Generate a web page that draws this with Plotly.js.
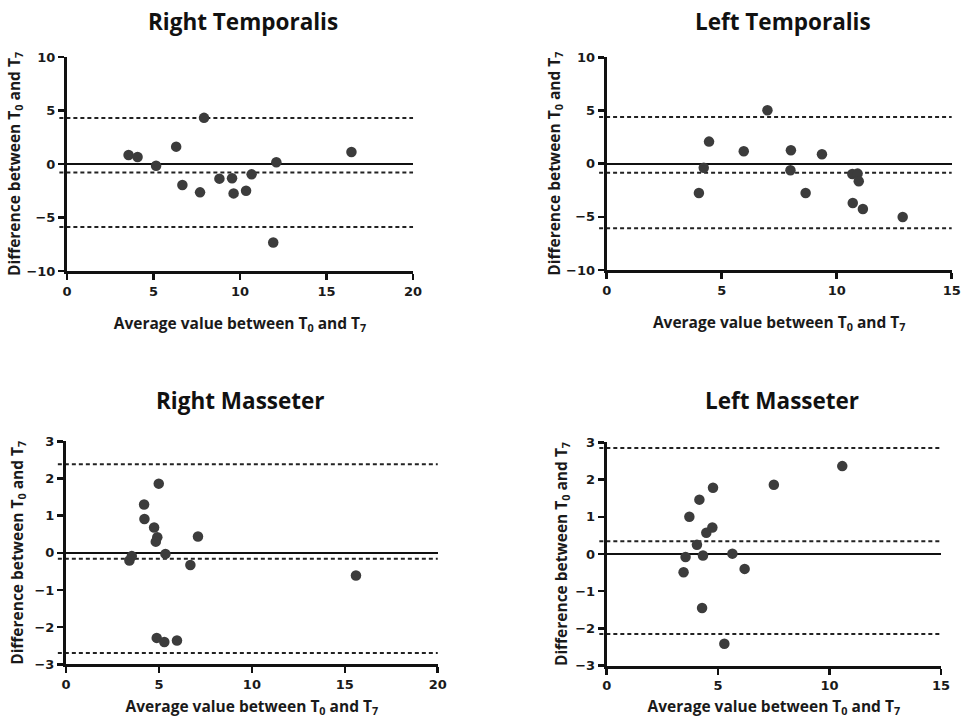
<!DOCTYPE html>
<html>
<head>
<meta charset="utf-8">
<script src="https://cdn.plot.ly/plotly-3.0.1.min.js"></script>
<style>html,body{margin:0;padding:0;background:#fff;}#chart{width:961px;height:724px;}</style>
</head>
<body>
<div id="chart"></div>
<script>
// Panel titles
const panelTitles = ["Right Temporalis", "Left Temporalis", "Right Masseter", "Left Masseter"];

// Right Temporalis
const rtX = [3.56, 4.08, 5.15, 6.31, 6.67, 7.69, 7.92, 8.81, 9.54, 9.63, 10.35, 10.67, 11.92, 12.10, 16.44];
const rtY = [0.84, 0.66, -0.16, 1.62, -1.97, -2.65, 4.31, -1.37, -1.34, -2.75, -2.50, -0.97, -7.33, 0.16, 1.12];
const rtLimits = [4.3, -0.8, -5.9];   // upper LoA, mean bias, lower LoA

// Left Temporalis
const ltX = [4.01, 4.22, 4.45, 5.96, 6.99, 8.01, 7.99, 8.65, 9.36, 10.68, 10.91, 10.96, 10.70, 11.14, 12.87];
const ltY = [-2.76, -0.38, 2.07, 1.16, 5.02, 1.25, -0.63, -2.76, 0.88, -0.97, -0.94, -1.66, -3.70, -4.26, -5.02];
const ltLimits = [4.39, -0.85, -6.08];

// Right Masseter
const rmX = [3.41, 3.54, 4.20, 4.22, 4.74, 4.91, 4.83, 4.99, 5.35, 6.69, 7.10, 4.88, 5.29, 5.97, 15.60];
const rmY = [-0.21, -0.09, 1.30, 0.91, 0.68, 0.42, 0.30, 1.86, -0.03, -0.33, 0.44, -2.29, -2.40, -2.36, -0.61];
const rmLimits = [2.38, -0.16, -2.70];

// Left Masseter
const lmX = [3.45, 3.54, 3.71, 4.05, 4.16, 4.28, 4.32, 4.47, 4.74, 4.77, 5.28, 5.64, 6.19, 7.50, 10.57];
const lmY = [-0.49, -0.08, 1.00, 0.25, 1.46, -1.45, -0.04, 0.57, 0.71, 1.78, -2.41, 0.01, -0.40, 1.86, 2.36];
const lmLimits = [2.85, 0.34, -2.15];

// Axis ranges and tick steps
const xRanges = [[0, 20], [0, 15], [0, 20], [0, 15]];
const yRanges = [[-10, 10], [-10, 10], [-3, 3], [-3, 3]];
const yDtick = [5, 5, 1, 1];
const xTitle = "Average value between T<sub>0</sub> and T<sub>7</sub>";
const yTitle = "Difference between T<sub>0</sub> and T<sub>7</sub>";

const series = [[rtX, rtY, rtLimits], [ltX, ltY, ltLimits], [rmX, rmY, rmLimits], [lmX, lmY, lmLimits]];

// layout geometry (paper fractions)
const xDomains = [[0.0697, 0.4298], [0.6313, 0.9903], [0.0687, 0.4555], [0.6313, 0.9792]];
const yDomains = [[0.6257, 0.9213], [0.6271, 0.9209], [0.0825, 0.3905], [0.0805, 0.3891]];
const titlePos = [[0.253, 0.970], [0.815, 0.970], [0.250, 0.447], [0.814, 0.447]];
const xStandoff = [21, 21, 11, 9];
const yStandoff = [2, 2, 8, 4];

function tickFont() { return {family: "DejaVu Sans", size: 13, color: "#1a1a1a", weight: "bold"}; }
function axTitleFont() { return {family: "Open Sans", size: 15.5, color: "#1a1a1a", weight: "bold"}; }

const traces = [];
const shapes = [];
const annotations = [];
const layout = {
  width: 961, height: 724,
  margin: {l: 0, r: 0, t: 0, b: 0},
  paper_bgcolor: "#fff", plot_bgcolor: "#fff",
  font: {family: "DejaVu Sans", size: 13, color: "#1a1a1a", weight: "bold"},
  showlegend: false,
  shapes: shapes, annotations: annotations
};

series.forEach(function (s, i) {
  const n = i === 0 ? "" : String(i + 1);
  const xa = "x" + n, ya = "y" + n;
  traces.push({
    type: "scatter", mode: "markers", x: s[0], y: s[1],
    xaxis: xa, yaxis: ya,
    marker: {color: "#3c3c3c", size: 10.5},
    cliponaxis: false,
    hoverinfo: "x+y"
  });
  s[2].forEach(function (v) {
    shapes.push({
      type: "line", xref: xa + " domain", yref: ya,
      x0: -0.022, x1: 1, y0: v, y1: v,
      line: {color: "#222", width: 2, dash: "4px,3px"},
      layer: "below"
    });
  });
  layout["xaxis" + n] = {
    domain: xDomains[i], anchor: ya, range: xRanges[i],
    dtick: 5, tick0: 0, showgrid: false, zeroline: false,
    showline: true, linecolor: "#111", linewidth: 3,
    ticks: "outside", ticklen: 6, tickwidth: 2.5, tickcolor: "#111",
    showticklabels: true,
    tickfont: tickFont(),
    title: {text: xTitle, font: axTitleFont(), standoff: xStandoff[i]}
  };
  layout["yaxis" + n] = {
    domain: yDomains[i], anchor: xa, range: yRanges[i],
    dtick: yDtick[i], tick0: 0, showgrid: false,
    zeroline: true, zerolinecolor: "#111", zerolinewidth: 2,
    showline: true, linecolor: "#111", linewidth: 3,
    ticks: "outside", ticklen: 6, tickwidth: 2.5, tickcolor: "#111",
    showticklabels: true,
    tickfont: tickFont(),
    title: {text: yTitle, font: axTitleFont(), standoff: yStandoff[i]}
  };
  annotations.push({
    text: panelTitles[i], xref: "paper", yref: "paper",
    x: titlePos[i][0], y: titlePos[i][1], xanchor: "center", yanchor: "middle",
    showarrow: false,
    font: {family: "Open Sans", size: 22.5, color: "#111", weight: "bold"}
  });
});

Plotly.newPlot("chart", traces, layout, {displayModeBar: false, staticPlot: true});
</script>
</body>
</html>
